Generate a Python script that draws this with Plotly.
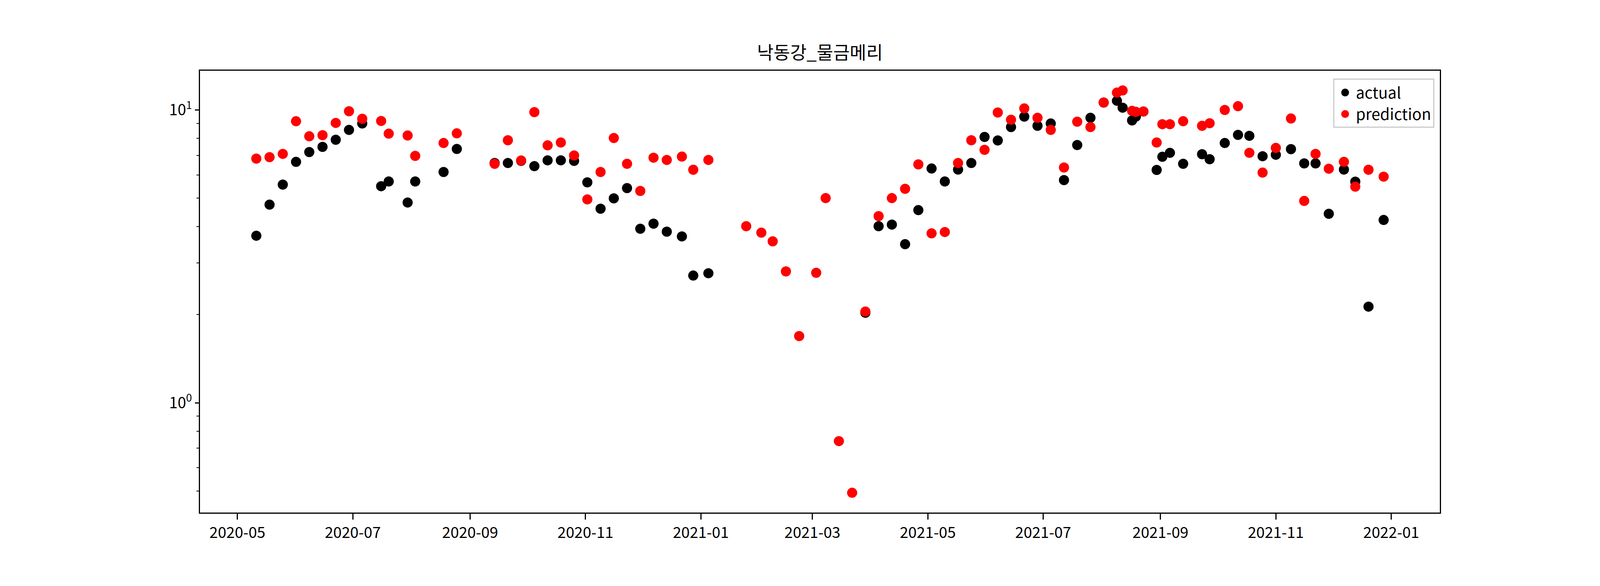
import plotly.graph_objects as go

# weekly observation dates
dates = [
    '2020-05-11', '2020-05-18', '2020-05-25', '2020-06-01', '2020-06-08', '2020-06-15',
    '2020-06-22', '2020-06-29', '2020-07-06', '2020-07-16', '2020-07-20', '2020-07-30',
    '2020-08-03', '2020-08-18', '2020-08-25', '2020-09-14', '2020-09-21', '2020-09-28',
    '2020-10-05', '2020-10-12', '2020-10-19', '2020-10-26', '2020-11-02', '2020-11-09',
    '2020-11-16', '2020-11-23', '2020-11-30', '2020-12-07', '2020-12-14', '2020-12-22',
    '2020-12-28', '2021-01-05', '2021-01-25', '2021-02-02', '2021-02-08', '2021-02-15',
    '2021-02-22', '2021-03-03', '2021-03-08', '2021-03-15', '2021-03-22', '2021-03-29',
    '2021-04-05', '2021-04-12', '2021-04-19', '2021-04-26', '2021-05-03', '2021-05-10',
    '2021-05-17', '2021-05-24', '2021-05-31', '2021-06-07', '2021-06-14', '2021-06-21',
    '2021-06-28', '2021-07-05', '2021-07-12', '2021-07-19', '2021-07-26', '2021-08-02',
    '2021-08-09', '2021-08-12', '2021-08-17', '2021-08-19', '2021-08-23', '2021-08-30',
    '2021-09-02', '2021-09-06', '2021-09-13', '2021-09-23', '2021-09-27', '2021-10-05',
    '2021-10-12', '2021-10-18', '2021-10-25', '2021-11-01', '2021-11-09', '2021-11-16',
    '2021-11-22', '2021-11-29', '2021-12-07', '2021-12-13', '2021-12-20', '2021-12-28',
]

# measured values (None where no measurement exists)
actual = [
    3.72, 4.75, 5.56, 6.65, 7.18, 7.48,
    7.91, 8.55, 8.99, 5.49, 5.70, 4.83,
    5.70, 6.14, 7.36, 6.59, 6.59, 6.70,
    6.43, 6.73, 6.73, 6.70, 5.66, 4.60,
    4.99, 5.41, 3.93, 4.09, 3.84, 3.70,
    2.72, 2.77, None, None, None, None,
    None, None, None, None, None, 2.03,
    4.01, 4.06, 3.48, 4.55, 6.31, 5.70,
    6.26, 6.59, 8.09, 7.87, 8.74, 9.49,
    8.83, 8.99, 5.76, 7.59, 9.40, 10.6,
    10.75, 10.18, 9.21, 9.49, 9.88, 6.24,
    6.92, 7.14, 6.55, 7.06, 6.79, 7.71,
    8.22, 8.16, 6.95, 7.03, 7.35, 6.57,
    6.57, 4.42, 6.26, 5.69, 2.13, 4.21,
]

# model output
prediction = [
    6.82, 6.90, 7.08, 9.15, 8.13, 8.20,
    9.03, 9.90, 9.33, 9.17, 8.30, 8.18,
    6.97, 7.71, 8.32, 6.55, 7.88, 6.72,
    9.83, 7.57, 7.74, 6.99, 4.95, 6.14,
    8.02, 6.55, 5.29, 6.87, 6.75, 6.93,
    6.25, 6.75, 4.01, 3.81, 3.56, 2.81,
    1.69, 2.78, 5.00, 0.740, 0.493, 2.05,
    4.34, 5.00, 5.38, 6.52, 3.79, 3.83,
    6.59, 7.88, 7.31, 9.80, 9.26, 10.12,
    9.40, 8.55, 6.36, 9.12, 8.74, 10.6,
    11.46, 11.66, 9.93, 9.85, 9.88, 7.74,
    8.94, 8.94, 9.15, 8.83, 9.01, 10.0,
    10.3, 7.14, 6.11, 7.42, 9.35, 4.89,
    7.08, 6.30, 6.65, 5.47, 6.25, 5.92,
]

month_ticks = ['2020-05-01', '2020-07-01', '2020-09-01', '2020-11-01', '2021-01-01',
               '2021-03-01', '2021-05-01', '2021-07-01', '2021-09-01', '2021-11-01',
               '2022-01-01']
y_major = [1, 10]
y_major_text = ['10<sup>0</sup>', '10<sup>1</sup>']
y_minor = [0.5, 0.6, 0.7, 0.8, 0.9, 2, 3, 4, 5, 6, 7, 8, 9]

FONT = 'Noto Sans CJK KR'


def build_figure() -> go.Figure:
    """Scatter of actual vs predicted values on a log axis"""
    fig = go.Figure()

    # actual first so the prediction dots sit on top
    fig.add_trace(go.Scatter(x=dates, y=actual, mode='markers', name='actual',
                             marker=dict(color='black', size=22,
                                         line=dict(color='black', width=4))))
    fig.add_trace(go.Scatter(x=dates, y=prediction, mode='markers', name='prediction',
                             marker=dict(color='red', size=22,
                                         line=dict(color='red', width=4))))

    axis_style = dict(showline=True, linecolor='black', linewidth=2.5, mirror=True,
                      ticks='outside', tickwidth=2.5, tickcolor='black',
                      showgrid=False, zeroline=False,
                      tickfont=dict(family=FONT, size=39, color='black'))

    fig.update_xaxes(type='date', range=['2020-04-11 05:30', '2022-01-26 17:00'],
                     tickmode='array', tickvals=month_ticks, tickformat='%Y-%m',
                     ticklen=15, **axis_style)
    fig.update_yaxes(type='log', range=[-0.3747, 1.134],
                     tickmode='array', tickvals=y_major, ticktext=y_major_text,
                     ticklen=10,
                     minor=dict(tickmode='array', tickvals=y_minor, ticks='outside',
                                ticklen=6, tickwidth=2, tickcolor='black',
                                showgrid=False),
                     **axis_style)

    # the browser window is 4096 wide, so the figure is sized to fill it
    fig.update_layout(
        width=4088, height=1492,
        margin=dict(l=504, r=410, t=173, b=188),
        paper_bgcolor='white', plot_bgcolor='white',
        font=dict(family=FONT, size=38, color='black'),
        title=dict(text='낙동강_물금메리', x=0.5, xref='paper', xanchor='center',
                   y=1, yref='paper', yanchor='bottom', pad=dict(b=30),
                   font=dict(family=FONT, size=46, color='black')),
        showlegend=True,
        legend=dict(x=0.9956, y=0.982, xanchor='right', yanchor='top',
                    bgcolor='white', bordercolor='#cccccc', borderwidth=3,
                    itemwidth=45,
                    font=dict(family=FONT, size=40, color='black')),
    )
    return fig


fig = build_figure()
fig.write_html("out.html")
